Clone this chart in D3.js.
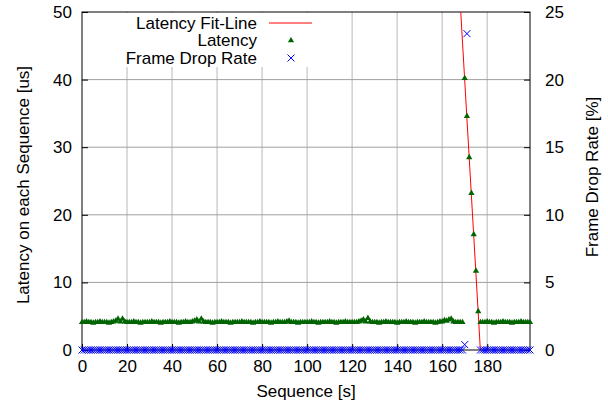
<!DOCTYPE html>
<html><head><meta charset="utf-8">
<script src="https://cdn.jsdelivr.net/npm/d3@7"></script>
<style>
html,body{margin:0;padding:0;background:#fff;}
text{font-family:"Liberation Sans",Arial,sans-serif;font-size:17px;fill:#000;}
</style></head>
<body>
<svg id="chart" width="608" height="405"></svg>
<script>
// ---- data ----
const latency = [
4.1,4.1,4.2,4.1,4.1,4.0,4.1,4.1,4.2,4.1,
4.1,4.1,4.0,4.1,4.2,4.3,4.6,4.2,4.6,4.2,
4.1,4.1,4.1,4.2,4.1,4.1,4.0,4.1,4.1,4.1,
4.1,4.2,4.1,4.1,4.1,4.0,4.1,4.1,4.1,4.2,
4.1,4.1,4.1,4.0,4.1,4.1,4.2,4.1,4.1,4.2,
4.3,4.5,4.2,4.6,4.2,4.1,4.1,4.1,4.0,4.1,
4.1,4.1,4.2,4.1,4.1,4.1,4.0,4.1,4.1,4.1,
4.1,4.2,4.1,4.1,4.1,4.1,4.0,4.1,4.1,4.2,
4.1,4.1,4.1,4.1,4.0,4.1,4.1,4.2,4.1,4.1,
4.1,4.2,4.3,4.1,4.1,4.1,4.0,4.1,4.1,4.1,
4.1,4.1,4.2,4.1,4.1,4.0,4.1,4.1,4.1,4.1,
4.2,4.1,4.1,4.0,4.1,4.1,4.1,4.2,4.1,4.1,
4.1,4.1,4.1,4.2,4.3,4.5,4.2,4.7,4.2,4.1,
4.1,4.1,4.0,4.1,4.1,4.2,4.1,4.1,4.1,4.1,
4.0,4.1,4.1,4.1,4.2,4.1,4.1,4.1,4.0,4.1,
4.1,4.1,4.2,4.1,4.1,4.1,4.1,4.0,4.1,4.2,
4.2,4.4,4.3,4.5,4.6,4.2,4.1,4.1,4.1,4.1,
40.2,34.6,28.5,23.2,17.1,11.7,5.7,
4.1,4.1,4.1,4.2,4.1,4.1,4.0,4.1,4.1,4.1,
4.2,4.1,4.1,4.1,4.0,4.1,4.1,4.1,4.2,4.1,
4.1,4.1,4.1
];
const frameDrop = [
0,0,0,0,0,0,0,0,0,0, 0,0,0,0,0,0,0,0,0,0,
0,0,0,0,0,0,0,0,0,0, 0,0,0,0,0,0,0,0,0,0,
0,0,0,0,0,0,0,0,0,0, 0,0,0,0,0,0,0,0,0,0,
0,0,0,0,0,0,0,0,0,0, 0,0,0,0,0,0,0,0,0,0,
0,0,0,0,0,0,0,0,0,0, 0,0,0,0,0,0,0,0,0,0,
0,0,0,0,0,0,0,0,0,0, 0,0,0,0,0,0,0,0,0,0,
0,0,0,0,0,0,0,0,0,0, 0,0,0,0,0,0,0,0,0,0,
0,0,0,0,0,0,0,0,0,0, 0,0,0,0,0,0,0,0,0,0,
0,0,0,0,0,0,0,0,0,0,
0.4,23.4,null,null,null,null,null,
0,0,0,0,0,0,0,0,0,0, 0,0,0,0,0,0,0,0,0,0,
0,0,0
];
// linear fit of the latency ramp: latency = fitSlope * s + fitIntercept
const fitSlope = -5.74;
const fitIntercept = 1015.7;
const fitRange = [167, 178];
const xTicks = [0,20,40,60,80,100,120,140,160,180];
const yTicks = [0,10,20,30,40,50];
const y2Ticks = [0,5,10,15,20,25];
const legendLabels = ["Latency Fit-Line","Latency","Frame Drop Rate"];

// ---- layout ----
const L = 82, R = 530, T = 12, B = 350;
const FONT = '"Liberation Sans",Arial,sans-serif';
const svg = d3.select("#chart");
const x = d3.scaleLinear().domain([0,199]).range([L,R]);
const y = d3.scaleLinear().domain([0,50]).range([B,T]);
const y2 = d3.scaleLinear().domain([0,25]).range([B,T]);

// grid
const grid = svg.append("g");
grid.selectAll(".vg").data(xTicks.filter(d=>d>0)).enter().append("line")
  .attr("x1",d=>x(d)).attr("x2",d=>x(d)).attr("y1",T).attr("y2",B)
  .attr("stroke","#d0d0d0").attr("stroke-width",1.5);
grid.selectAll(".hg").data(yTicks.filter(d=>d>0 && d<50)).enter().append("line")
  .attr("x1",L).attr("x2",R).attr("y1",d=>y(d)).attr("y2",d=>y(d))
  .attr("stroke","#a0a0a0").attr("stroke-width",1);

// legend background (hides grid)
svg.append("rect").attr("x",L+1).attr("y",T+1).attr("width",253).attr("height",54).attr("fill","#fff");

// axes
const axB = svg.append("g").attr("transform",`translate(0,${B})`)
  .call(d3.axisBottom(x).tickValues(xTicks).tickSize(-6).tickPadding(10));
const axL = svg.append("g").attr("transform",`translate(${L},0)`)
  .call(d3.axisLeft(y).tickValues(yTicks).tickSize(-6).tickPadding(10));
const axR = svg.append("g").attr("transform",`translate(${R},0)`)
  .call(d3.axisRight(y2).tickValues(y2Ticks).tickSize(-6).tickPadding(15));
[axB,axL,axR].forEach(g=>{
  g.select(".domain").remove();
  g.selectAll("text").attr("font-size",17).attr("font-family",FONT).attr("fill","#000");
  g.selectAll("line").attr("stroke","#000");
});
// border
svg.append("rect").attr("x",L).attr("y",T).attr("width",R-L).attr("height",B-T)
  .attr("fill","none").attr("stroke","#000").attr("stroke-width",1);

// titles
svg.append("text").attr("x",(L+R)/2).attr("y",397).attr("text-anchor","middle").text("Sequence [s]");
svg.append("text").attr("transform","translate(29,185) rotate(-90)").attr("text-anchor","middle").text("Latency on each Sequence [us]");
svg.append("text").attr("transform","translate(598,177) rotate(-90)").attr("text-anchor","middle").text("Frame Drop Rate [%]");

// clip
svg.append("clipPath").attr("id","clip").append("rect").attr("x",L).attr("y",T).attr("width",R-L).attr("height",B-T);

// fit line
const fitPts = fitRange.map(s=>[s, fitSlope*s+fitIntercept]);
svg.append("path").attr("clip-path","url(#clip)")
  .attr("d", d3.line().x(d=>x(d[0])).y(d=>y(d[1]))(fitPts))
  .attr("stroke","#ff0000").attr("stroke-width",1).attr("fill","none");

// latency points
const tri = d3.symbol().type(d3.symbolTriangle).size(17);
svg.append("g").selectAll("path").data(latency.map((v,i)=>[i,v])).enter().append("path")
  .attr("d",tri).attr("transform",d=>`translate(${x(d[0])},${y(d[1])})`)
  .attr("fill","#006400");

// frame drop points
const xs = 3.5;
const xPath = `M${-xs},${-xs}L${xs},${xs}M${-xs},${xs}L${xs},${-xs}`;
svg.append("g").selectAll("path").data(frameDrop.map((v,i)=>[i,v]).filter(d=>d[1]!==null)).enter().append("path")
  .attr("d",xPath).attr("transform",d=>`translate(${x(d[0])},${y2(d[1])})`)
  .attr("stroke","#0000ff").attr("stroke-width",1).attr("fill","none");

// legend
const lg = svg.append("g");
const rowsY = [23,40.5,58];
lg.selectAll("text").data(legendLabels).enter().append("text")
  .attr("x",257).attr("y",(d,i)=>rowsY[i]).attr("dy","0.35em").attr("text-anchor","end").text(d=>d);
lg.append("line").attr("x1",269).attr("x2",312).attr("y1",rowsY[0]).attr("y2",rowsY[0]).attr("stroke","#ff0000").attr("stroke-width",1);
lg.append("path").attr("d",tri).attr("transform",`translate(291,${rowsY[1]})`).attr("fill","#006400");
lg.append("path").attr("d",xPath).attr("transform",`translate(291,${rowsY[2]})`).attr("stroke","#0000ff").attr("fill","none");
</script>
</body></html>
